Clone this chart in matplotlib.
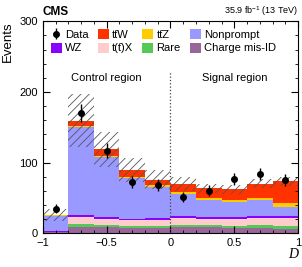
import matplotlib
matplotlib.use('Agg')
import matplotlib.pyplot as plt
import numpy as np

plt.rcParams['font.family'] = 'Liberation Sans'
plt.rcParams['mathtext.fontset'] = 'custom'
plt.rcParams['mathtext.rm'] = 'Liberation Sans'
plt.rcParams['mathtext.it'] = 'Liberation Sans:italic'
plt.rcParams['hatch.linewidth'] = 0.6

# bin edges of D
edges = np.linspace(-1, 1, 11)

# stacked backgrounds, bottom to top
misid     = [1.5, 9.5, 8.5, 8.0, 8.0, 8.5, 8.5, 8.0, 8.0, 6.5]
rare      = [0.2, 3.5, 3.0, 3.0, 3.0, 3.5, 3.0, 3.0, 3.5, 4.5]
ttx       = [0.8, 10.0, 9.0, 8.0, 8.5, 9.5, 9.0, 9.5, 10.5, 10.5]
wz        = [0.3, 2.5, 2.5, 2.0, 2.5, 2.5, 2.5, 2.5, 2.5, 2.5]
nonprompt = [22.0, 125.0, 85.0, 57.0, 44.0, 31.0, 24.0, 21.5, 22.0, 14.0]
ttz       = [0.5, 2.0, 2.0, 2.0, 2.0, 3.0, 2.5, 3.0, 3.0, 5.5]
ttw       = [0.7, 7.0, 9.0, 9.5, 8.0, 11.5, 14.0, 15.0, 21.0, 30.0]
syst_unc  = [8.0, 38.0, 25.0, 17.0, 13.0, 10.0, 7.0, 6.5, 6.0, 6.0]

data = [35, 170, 117, 72, 68, 51, 60, 77, 84, 75]

TTW = 'tt\u0304W'
TTZ = 'tt\u0304Z'
TX = 't(t\u0304)X'

fig = plt.figure(figsize=(3.02, 2.67), dpi=100)
ax = fig.add_axes([0.142, 0.126, 0.845, 0.794])

left = edges[:-1]
w = 0.2
layers = [(misid, '#996699', 'Charge mis-ID'),
          (rare, '#55c955', 'Rare'),
          (ttx, '#ffcccc', TX),
          (wz, '#8a00ff', 'WZ'),
          (nonprompt, '#9999ff', 'Nonprompt'),
          (ttz, '#ffcc00', TTZ),
          (ttw, '#ff3300', TTW)]
handles = {}
bottom = np.zeros(10)
for vals, col, lab in layers:
    b = ax.bar(left, vals, width=w, bottom=bottom, align='edge', color=col, lw=0)
    handles[lab] = b
    bottom = bottom + np.array(vals)

total = bottom
unc = np.array(syst_unc)
ax.bar(left, 2 * unc, width=w, bottom=total - unc, align='edge', fill=False,
       hatch='////', edgecolor='#555555', lw=0)

centers = left + w / 2
derr = np.sqrt(data)
dh = ax.errorbar(centers, data, yerr=derr, fmt='o', color='black', ms=4,
                 elinewidth=1, capsize=0)

ax.plot([0, 0], [0, 230], ls=':', color='#444444', lw=0.9)
ax.text(-0.5, 220, 'Control region', ha='center', va='center', fontsize=8)
ax.text(0.5, 220, 'Signal region', ha='center', va='center', fontsize=8)

ax.set_xlim(-1, 1)
ax.set_ylim(0, 300)
ax.set_xticks([-1, -0.5, 0, 0.5, 1])
ax.set_xticklabels(['\u22121', '\u22120.5', '0', '0.5', '1'])
ax.set_yticks([0, 100, 200, 300])
ax.set_xticks(np.arange(-1, 1.01, 0.1), minor=True)
ax.set_yticks(np.arange(0, 301, 20), minor=True)
ax.tick_params(which='both', direction='in', top=True, right=True, labelsize=8)
ax.tick_params(which='major', length=5)
ax.tick_params(which='minor', length=2.5)

ax.set_ylabel('Events', fontsize=9.5, loc='top')
ax.set_xlabel('D', fontsize=10, loc='right', family='Liberation Serif',
              style='italic', labelpad=0)

order = ['Data', TTW, TTZ, 'Nonprompt', 'WZ', TX, 'Rare', 'Charge mis-ID']
handles['Data'] = dh
# matplotlib fills legend columns first, so reorder for row-wise filling
col_order = [0, 4, 1, 5, 2, 6, 3, 7]
hs = [handles[order[i]] for i in col_order]
ls = [order[i] for i in col_order]
ax.legend(hs, ls, ncol=4, loc='upper left', bbox_to_anchor=(0.0, 1.0),
          frameon=False, fontsize=8, handlelength=1.0, handleheight=1.0,
          handletextpad=0.3, columnspacing=0.8, labelspacing=0.25,
          borderaxespad=0.3)

fig.text(0.142, 0.933, 'CMS', fontsize=8.5, fontweight='bold', ha='left', va='bottom')
fig.text(0.987, 0.933, r'35.9 fb$^{-1}$ (13 TeV)', fontsize=6.5, ha='right', va='bottom')

fig.savefig('out.png', dpi=100)
